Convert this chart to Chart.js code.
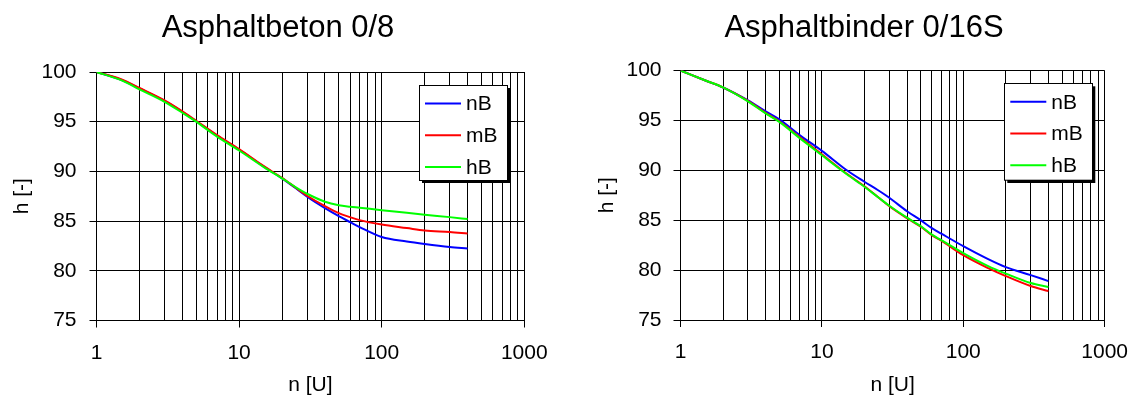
<!DOCTYPE html>
<html>
<head>
<meta charset="utf-8">
<script src="https://cdn.jsdelivr.net/npm/chart.js@4"></script>
<style>
  html, body { margin: 0; padding: 0; background: #fff; }
  #wrap { position: relative; width: 1141px; height: 396px; }
  .box { position: absolute; top: 0; height: 396px; }
  #boxA { left: 0; width: 570px; }
  #boxB { left: 570px; width: 571px; }
</style>
</head>
<body>
<div id="wrap">
  <div class="box" id="boxA"><canvas id="chartA"></canvas></div>
  <div class="box" id="boxB"><canvas id="chartB"></canvas></div>
</div>
<script>
const FONT = '"Liberation Sans", Arial, sans-serif'
Chart.defaults.color = '#000'
Chart.defaults.font.family = FONT

// load cycles n [U]
const cycles = [1, 1.5, 2, 3, 4, 5, 7, 10, 15, 20, 25, 30, 40, 50, 60, 70, 100, 150, 200, 300, 400]
const seriesNames = ['nB', 'mB', 'hB']
const seriesColors = ['#0000ff', '#ff0000', '#00ff00']

// Asphaltbeton 0/8, h [-]
const betonNB = [100, 99.2, 98.35, 97.1, 96.0, 95.05, 93.6, 92.2, 90.45, 89.3, 88.3, 87.45, 86.3, 85.5, 84.9, 84.4, 83.4, 82.95, 82.7, 82.4, 82.25]
const betonMB = [100, 99.25, 98.4, 97.15, 96.05, 95.1, 93.65, 92.25, 90.5, 89.35, 88.35, 87.55, 86.5, 85.8, 85.4, 85.1, 84.65, 84.3, 84.05, 83.9, 83.75]
const betonHB = [100, 99.15, 98.25, 97.0, 95.9, 95.0, 93.5, 92.1, 90.4, 89.3, 88.4, 87.75, 86.95, 86.6, 86.45, 86.35, 86.1, 85.85, 85.65, 85.4, 85.2]

// Asphaltbinder 0/16S, h [-]
const binderNB = [100, 99.0, 98.3, 97.0, 95.9, 95.1, 93.5, 91.95, 90.0, 88.85, 88.0, 87.25, 85.9, 85.0, 84.2, 83.65, 82.4, 81.1, 80.3, 79.5, 78.9]
const binderMB = [100, 99.0, 98.3, 96.95, 95.75, 94.9, 93.3, 91.6, 89.65, 88.4, 87.3, 86.4, 85.2, 84.35, 83.5, 82.95, 81.5, 80.2, 79.4, 78.4, 77.9]
const binderHB = [100, 99.0, 98.3, 96.9, 95.7, 94.85, 93.2, 91.5, 89.6, 88.35, 87.3, 86.45, 85.25, 84.4, 83.55, 83.0, 81.7, 80.4, 79.65, 78.7, 78.3]

// axes
const decadeLabels = [1, 10, 100, 1000]
const yTicks = [75, 80, 85, 90, 95, 100]

// log grid: 1..9 in every decade, plus 1000
const xGrid = []
for (let d = 1; d < 1000; d *= 10) {
  for (let k = 1; k <= 9; k++) xGrid.push(k * d)
}
xGrid.push(1000)

function isDecade(v) {
  return decadeLabels.includes(v)
}

// chart title, drawn freely above the plot
const plotTitle = {
  id: 'plotTitle',
  afterDraw(chart, args, opts) {
    const ctx = chart.ctx
    ctx.save()
    ctx.fillStyle = '#000'
    ctx.font = '31px ' + FONT
    ctx.textAlign = 'center'
    ctx.textBaseline = 'alphabetic'
    ctx.fillText(opts.text, opts.x, opts.y)
    ctx.restore()
  }
}

// framed legend with drop shadow inside the plot
const boxLegend = {
  id: 'boxLegend',
  afterDatasetsDraw(chart, args, opts) {
    const ctx = chart.ctx
    const {x, y, w, h} = opts
    ctx.save()
    ctx.fillStyle = '#000'
    ctx.fillRect(x + 3, y + 3, w, h)
    ctx.fillStyle = '#fff'
    ctx.fillRect(x, y, w, h)
    ctx.strokeStyle = '#000'
    ctx.lineWidth = 1
    ctx.strokeRect(Math.round(x) + 0.5, Math.round(y) + 0.5, w, h)
    ctx.font = '21px ' + FONT
    ctx.textBaseline = 'middle'
    ctx.textAlign = 'left'
    chart.data.datasets.forEach((ds, i) => {
      const ly = y + 18.5 + i * 31.7
      ctx.strokeStyle = ds.borderColor
      ctx.lineWidth = 2
      ctx.beginPath()
      ctx.moveTo(x + 6, ly)
      ctx.lineTo(x + 42, ly)
      ctx.stroke()
      ctx.fillStyle = '#000'
      ctx.fillText(ds.label, x + 47, ly + 1)
    })
    ctx.restore()
  }
}

function makeChart(canvasId, title, values, geo) {
  const datasets = values.map((vals, i) => ({
    label: seriesNames[i],
    data: cycles.map((n, j) => ({x: n, y: vals[j]})),
    borderColor: seriesColors[i],
    backgroundColor: seriesColors[i],
    borderWidth: 2,
    pointRadius: 0,
    cubicInterpolationMode: 'monotone',
    order: values.length - i
  }))

  return new Chart(document.getElementById(canvasId), {
    type: 'line',
    data: {datasets},
    options: {
      responsive: true,
      maintainAspectRatio: false,
      animation: false,
      events: [],
      layout: {
        padding: {left: 0, right: geo.rightPad, top: geo.top, bottom: 0}
      },
      plugins: {
        legend: {display: false},
        tooltip: {enabled: false},
        title: {display: false},
        plotTitle: {text: title, x: geo.titleX, y: 37},
        boxLegend: geo.legend
      },
      scales: {
        x: {
          type: 'logarithmic',
          min: 1,
          max: 1000,
          afterBuildTicks: scale => {
            scale.ticks = xGrid.map(v => ({value: v, major: isDecade(v)}))
          },
          afterFit: scale => { scale.height = geo.xHeight },
          ticks: {
            autoSkip: false,
            maxRotation: 0,
            padding: 13,
            font: {size: 21},
            callback: v => isDecade(v) ? String(v) : ''
          },
          grid: {
            color: '#000',
            lineWidth: 1,
            tickLength: 7,
            tickColor: c => isDecade(c.tick.value) ? '#000' : 'rgba(0,0,0,0)'
          },
          border: {display: true, color: '#000', width: 1},
          title: {
            display: true,
            text: 'n [U]',
            font: {size: 21, lineHeight: 1},
            padding: {top: 0, bottom: 0}
          }
        },
        y: {
          min: 75,
          max: 100,
          afterBuildTicks: scale => {
            scale.ticks = yTicks.map(v => ({value: v}))
          },
          afterFit: scale => { scale.width = geo.yWidth },
          ticks: {
            padding: geo.yTickPad,
            font: {size: 21}
          },
          grid: {color: '#000', lineWidth: 1, tickLength: 7, tickColor: '#000'},
          border: {display: true, color: '#000', width: 1},
          title: {
            display: true,
            text: 'h [-]',
            font: {size: 21, lineHeight: 1.2},
            padding: {top: geo.yTitlePad, bottom: 0}
          }
        }
      }
    },
    plugins: [plotTitle, boxLegend]
  })
}

makeChart('chartA', 'Asphaltbeton 0/8', [betonNB, betonMB, betonHB], {
  top: 72, rightPad: 45.7, xHeight: 75.5, yWidth: 96.5,
  yTickPad: 13, yTitlePad: 10, titleX: 278,
  legend: {x: 419, y: 85, w: 88, h: 95}
})

makeChart('chartB', 'Asphaltbinder 0/16S', [binderNB, binderMB, binderHB], {
  top: 70.5, rightPad: 31, xHeight: 76, yWidth: 110.5,
  yTickPad: 12, yTitlePad: 25, titleX: 864 - 570,
  legend: {x: 434.3, y: 83.3, w: 88, h: 96.7}
})
</script>
</body>
</html>
